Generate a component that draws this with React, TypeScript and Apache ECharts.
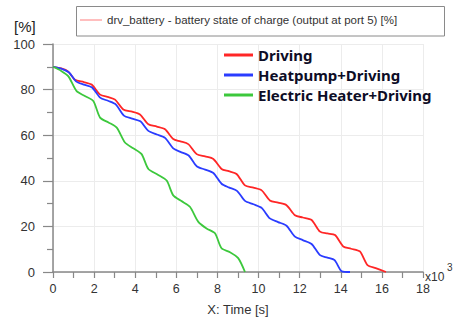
import React, { useEffect, useRef } from "react";
import * as echarts from "echarts";

const seriesNames = ["Driving", "Heatpump+Driving", "Electric Heater+Driving"];

// time in thousands of seconds, state of charge in %
const timeDriving = [0, 0.4, 0.73, 1.07, 1.5, 1.88, 2.29, 2.7, 3.02, 3.42, 3.85, 4.23, 4.64, 5.05, 5.45, 5.85, 6.2, 6.58, 6.99, 7.4, 7.8, 8.2, 8.55, 8.93, 9.34, 9.75, 10.15, 10.55, 10.95, 11.36, 11.77, 12.15, 12.58, 12.99, 13.35, 13.72, 14.12, 14.5, 14.93, 15.3, 15.7, 16.2];
const socDriving = [90, 89.3, 88, 84.3, 83.3, 82.2, 77.8, 76.7, 75.6, 71.3, 70.3, 69.1, 64.8, 63.8, 62.6, 58.3, 57.3, 56.1, 51.7, 50.7, 49.6, 45.2, 44.2, 43.0, 38.0, 37.0, 35.8, 31.4, 30.4, 29.3, 24.9, 23.9, 22.8, 17.7, 16.9, 16.2, 11.2, 10.2, 9.0, 3.0, 1.7, 0];

const timeHeatpump = [0, 0.4, 0.78, 1.12, 1.5, 1.9, 2.29, 2.7, 3.05, 3.45, 3.85, 4.25, 4.64, 5.05, 5.45, 5.85, 6.2, 6.6, 6.99, 7.4, 7.8, 8.2, 8.55, 8.95, 9.34, 9.75, 10.15, 10.55, 10.95, 11.36, 11.77, 12.15, 12.58, 12.99, 13.35, 13.7, 14.05, 14.45];
const socHeatpump = [90, 89.2, 87.5, 83.6, 82.2, 80.9, 76.5, 75.0, 73.5, 68.6, 67.3, 66.1, 61.9, 60.3, 58.8, 54.2, 52.7, 51.1, 46.4, 44.9, 43.4, 38.7, 37.1, 35.6, 31.2, 29.7, 28.1, 23.5, 21.9, 20.3, 15.5, 14.0, 12.3, 7.4, 6.3, 5.2, 0.3, 0];

const timeHeater = [0, 0.4, 0.75, 1.15, 1.55, 1.96, 2.29, 2.7, 3.1, 3.5, 3.9, 4.31, 4.64, 5.1, 5.53, 5.85, 6.25, 6.66, 7.07, 7.47, 7.88, 8.2, 8.61, 9.01, 9.34];
const socHeater = [90, 88.2, 85.8, 79.3, 77.2, 75.0, 67.7, 65.6, 63.3, 56.8, 54.3, 51.7, 45.2, 42.7, 40.1, 33.6, 31.1, 28.6, 22.0, 19.1, 17.0, 10.4, 8.7, 6.1, 0];

const xTicks = { min: 0, max: 18, interval: 2 };
const yTicks = { min: 0, max: 100, interval: 20 };

const colors = ["#ff2626", "#2a3cff", "#3cc83c"];

const zip = (t: number[], v: number[]) => t.map((x, i) => [x, v[i]]);

export default function App() {
  const ref = useRef<HTMLDivElement>(null);
  useEffect(() => {
    if (!ref.current) return;
    const chart = echarts.init(ref.current, undefined, { renderer: "svg" });
    const axisCommon = {
      axisLine: { show: true, onZero: false, lineStyle: { color: "#888", width: 1.5 } },
      splitLine: { show: true, lineStyle: { color: "#ececec", width: 1 } },
      axisLabel: { color: "#333", fontSize: 12.5, fontFamily: "Liberation Sans, Arial, sans-serif" },
    };
    chart.setOption({
      animation: false,
      backgroundColor: "#fff",
      grid: { left: 53, right: 35, top: 44, bottom: 47, containLabel: false },
      xAxis: {
        type: "value",
        ...xTicks,
        ...axisCommon,
        axisTick: { show: true, length: 6, lineStyle: { color: "#888", width: 1.2 } },
        minorTick: { show: true, splitNumber: 2, length: 6, lineStyle: { color: "#888", width: 1.2 } },
        axisLabel: { ...axisCommon.axisLabel, margin: 10 },
        name: "X: Time [s]",
        nameLocation: "middle",
        nameGap: 31,
        nameTextStyle: { color: "#333", fontSize: 13, fontFamily: "Liberation Sans, Arial, sans-serif" },
      },
      yAxis: {
        type: "value",
        ...yTicks,
        ...axisCommon,
        axisTick: { show: true, length: 10, lineStyle: { color: "#888", width: 1.2 } },
        minorTick: { show: true, splitNumber: 2, length: 6, lineStyle: { color: "#888", width: 1.2 } },
        axisLabel: { ...axisCommon.axisLabel, fontSize: 13, margin: 18 },
      },
      legend: {
        show: true,
        orient: "vertical",
        left: 219,
        top: 40,
        itemWidth: 29,
        itemHeight: 3,
        itemGap: 0,
        icon: "rect",
        data: seriesNames,
        textStyle: {
          color: "#0d0d26",
          fontSize: 15,
          fontWeight: "bold",
          lineHeight: 20,
          fontFamily: "Noto Sans, sans-serif",
        },
      },
      series: [
        { name: seriesNames[0], type: "line", data: zip(timeDriving, socDriving) },
        { name: seriesNames[1], type: "line", data: zip(timeHeatpump, socHeatpump) },
        { name: seriesNames[2], type: "line", data: zip(timeHeater, socHeater) },
      ].map((s, i) => ({
        ...s,
        showSymbol: false,
        symbol: "none",
        smooth: 0.25,
        color: colors[i],
        lineStyle: { color: colors[i], width: 1.8 },
      })),
      graphic: [
        {
          type: "rect",
          shape: { x: 76.5, y: 6.5, width: 368, height: 29.5 },
          style: { fill: "#fff", stroke: "#8a8a8a", lineWidth: 1 },
        },
        {
          type: "line",
          shape: { x1: 80, y1: 20, x2: 102, y2: 20 },
          style: { stroke: "#ffa8a8", lineWidth: 1.5 },
        },
        {
          type: "text",
          x: 107,
          y: 20,
          style: {
            text: "drv_battery - battery state of charge (output at port 5) [%]",
            fill: "#333",
            fontSize: 11.5,
            fontFamily: "Liberation Sans, Arial, sans-serif",
            verticalAlign: "middle",
          },
        },
        {
          type: "text",
          x: 14,
          y: 26,
          style: {
            text: "[%]",
            fill: "#222",
            fontSize: 15,
            fontFamily: "Liberation Sans, Arial, sans-serif",
            verticalAlign: "middle",
          },
        },
        {
          type: "text",
          x: 425,
          y: 277,
          style: {
            text: "x10",
            fill: "#333",
            fontSize: 12,
            fontFamily: "Liberation Sans, Arial, sans-serif",
            verticalAlign: "middle",
          },
        },
        {
          type: "text",
          x: 447,
          y: 267,
          style: {
            text: "3",
            fill: "#333",
            fontSize: 10,
            fontFamily: "Liberation Sans, Arial, sans-serif",
            verticalAlign: "middle",
          },
        },
      ],
    });
    return () => chart.dispose();
  }, []);
  return (
    <div
      ref={ref}
      style={{ position: "absolute", left: 0, top: 0, width: 458, height: 321 }}
    />
  );
}
